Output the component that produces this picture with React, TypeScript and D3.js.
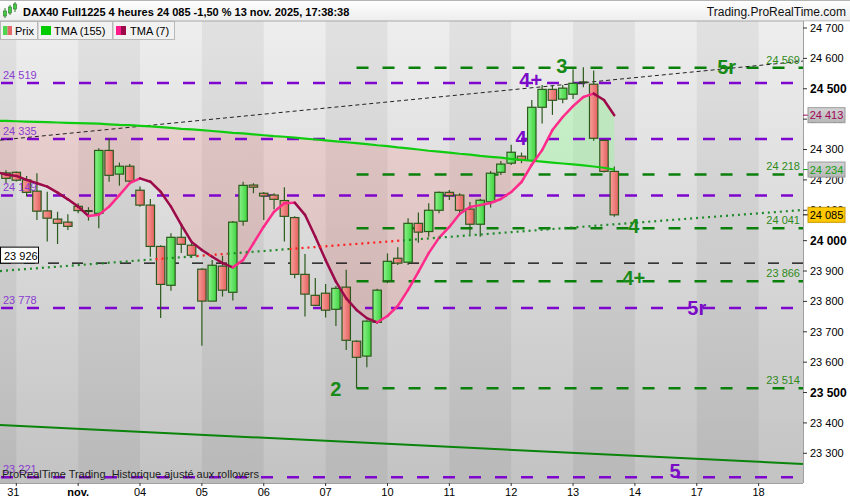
import React from 'react';
import * as d3 from 'd3';

// ---------- DATA ----------
const opens = [24223, 24225, 24200, 24163, 24098, 24071, 24061, 24113, 24099, 24090, 24297, 24219, 24245, 24166, 24117, 23981, 23853, 24011, 23985, 23906, 23801, 23916, 23830, 24064, 24183, 24156, 24150, 24132, 24076, 23889, 23820, 23827, 23774, 23847, 23669, 23620, 23731, 23868, 23942, 23929, 24057, 24030, 24100, 24159, 24150, 24104, 24054, 24128, 24225, 24255, 24278, 24264, 24439, 24498, 24466, 24482, 24519, 24515, 24330, 24228];
const highs = [24232, 24228, 24213, 24222, 24161, 24095, 24087, 24123, 24110, 24304, 24337, 24257, 24252, 24178, 24137, 23985, 24024, 24052, 23992, 23909, 23936, 23950, 24065, 24194, 24189, 24160, 24156, 24176, 24080, 23956, 23877, 23857, 23851, 23904, 23672, 23738, 23842, 23958, 23978, 24074, 24093, 24123, 24162, 24167, 24156, 24127, 24138, 24229, 24262, 24316, 24290, 24463, 24512, 24512, 24512, 24564, 24571, 24560, 24333, 24244];
const lows = [24190, 24195, 24145, 24068, 23997, 23989, 24035, 24090, 24066, 24041, 24194, 24181, 24187, 24112, 23947, 23745, 23835, 23959, 23943, 23654, 23801, 23816, 23803, 24049, 24156, 24068, 24103, 23997, 23876, 23750, 23785, 23747, 23719, 23640, 23514, 23583, 23726, 23860, 23920, 23920, 23993, 24013, 24090, 24134, 24090, 24021, 24013, 24109, 24216, 24249, 24255, 24260, 24386, 24414, 24452, 24466, 24505, 24329, 24224, 24079];
const closes = [24205, 24199, 24159, 24097, 24074, 24057, 24047, 24099, 24096, 24297, 24215, 24245, 24196, 24117, 23981, 23856, 24011, 23988, 23952, 23801, 23919, 23837, 24061, 24182, 24176, 24147, 24136, 24080, 23889, 23824, 23787, 23771, 23843, 23672, 23616, 23735, 23837, 23932, 23926, 24057, 24028, 24100, 24159, 24148, 24100, 24054, 24133, 24222, 24252, 24291, 24265, 24439, 24498, 24462, 24502, 24518, 24523, 24337, 24228, 24085];

// moving averages start one bar before the first candle
const TMA_START = -1;
const tma7 = [24226, 24218, 24213, 24200, 24189, 24178, 24158, 24136, 24112, 24081, 24085, 24112, 24150, 24189, 24205, 24194, 24161, 24112, 24052, 23996, 23969, 23947, 23926, 23912, 23936, 23991, 24046, 24095, 24123, 24125, 24085, 24013, 23936, 23865, 23810, 23772, 23745, 23731, 23752, 23785, 23838, 23897, 23959, 24009, 24045, 24088, 24111, 24117, 24124, 24137, 24160, 24193, 24250, 24298, 24364, 24407, 24443, 24473, 24484, 24463, 24413];
const tma155 = [24395, 24394, 24393, 24392, 24391, 24390, 24389, 24388, 24387, 24386, 24385, 24383, 24381, 24380, 24378, 24376, 24374, 24371, 24368, 24366, 24364, 24361, 24358, 24355, 24353, 24350, 24347, 24344, 24342, 24339, 24336, 24333, 24330, 24327, 24324, 24321, 24318, 24314, 24311, 24307, 24304, 24300, 24296, 24293, 24290, 24286, 24283, 24279, 24276, 24273, 24269, 24266, 24263, 24260, 24257, 24254, 24251, 24248, 24244, 24240, 24234];

const dayLabels = ['31', 'nov.', '04', '05', '06', '07', '10', '11', '12', '13', '14', '17', '18'];
const dayFirstBar = [1, 7, 13, 19, 25, 31, 37, 43, 49, 55, 61, 67, 73];

const yTickValues = [23300, 23400, 23500, 23600, 23700, 23800, 23900, 24000, 24100, 24200, 24300, 24400, 24500, 24600, 24700];
const yMajorTicks = [23500, 24000, 24500];

const purpleLevels = [24519, 24335, 24149, 23778, 23221];
const greenLevels = [24569, 24218, 24041, 23866, 23514];
const greenLevelStartBar = 34;
const blackLevel = 23926;

const trendUpper = [{ bar: -0.58, value: 24331 }, { bar: 77.3, value: 24591 }];
const trendDotted = [{ bar: -0.58, value: 23900 }, { bar: 77.3, value: 24101 }];
const trendLower = [{ bar: -0.58, value: 23393 }, { bar: 77.3, value: 23265 }];

const waveLabels = [
  { text: '4+', bar: 50.9, value: 24506, color: '#7a0ac8' },
  { text: '4', bar: 49.95, value: 24315, color: '#7a0ac8' },
  { text: '3', bar: 53.9, value: 24552, color: '#178a17' },
  { text: '5r', bar: 69.9, value: 24549, color: '#178a17' },
  { text: '4', bar: 60.9, value: 24025, color: '#178a17' },
  { text: '4+', bar: 60.9, value: 23854, color: '#178a17' },
  { text: '5r', bar: 67.0, value: 23755, color: '#7a0ac8' },
  { text: '5', bar: 64.9, value: 23219, color: '#7a0ac8' },
  { text: '2', bar: 32.0, value: 23489, color: '#178a17' },
];

const headerText = 'DAX40 Full1225 4 heures 24 085 -1,50 % 13 nov. 2025, 17:38:38';
const siteText = 'Trading.ProRealTime.com';
const footerText = 'ProRealTime Trading  Historique ajusté aux rollovers';

// ---------- LAYOUT ----------
const W = 850;
const H = 500;
const P = { left: 0, right: 803, top: 21, bottom: 483 };
const FONT = 'Liberation Sans, Arial, sans-serif';

const x = d3.scaleLinear().domain([0, 77]).range([6, 6 + 77 * 10.31]);
const y = d3.scaleLinear().domain([23300, 24700]).range([453.3, 28]);

const fmt = (v: number) => {
  const r = Math.round(v);
  return `${Math.floor(r / 1000)} ${String(r % 1000).padStart(3, '0')}`;
};

const lineAt = (t: { bar: number; value: number }[], bar: number) =>
  t[0].value + ((bar - t[0].bar) * (t[1].value - t[0].value)) / (t[1].bar - t[0].bar);

export default function App() {
  const tmaPts = tma7.map((v, k) => ({ i: k + TMA_START, t7: v, t155: tma155[k] }));
  const between = d3
    .area<any>()
    .x((d) => x(d.i))
    .y0((d) => y(d.t7))
    .y1((d) => y(d.t155))(tmaPts) as string;
  const aboveT7 = d3
    .area<any>()
    .x((d) => x(d.i))
    .y0(() => -50)
    .y1((d) => y(d.t7))(tmaPts) as string;
  const belowT7 = d3
    .area<any>()
    .x((d) => x(d.i))
    .y0((d) => y(d.t7))
    .y1(() => 600)(tmaPts) as string;
  const line155 = d3
    .line<any>()
    .x((d) => x(d.i))
    .y((d) => y(d.t155))(tmaPts) as string;

  // day bands
  const bands: { x0: number; x1: number; dark: boolean }[] = [];
  for (let k = -1; k < dayFirstBar.length; k++) {
    const b0 = 1 + 6 * k;
    bands.push({ x0: x(b0), x1: x(b0 + 6), dark: Math.abs(k) % 2 === 1 });
  }

  // dotted trend segments coloured by close vs line
  const dotSegs: { a: number; b: number; red: boolean }[] = [];
  const pushSeg = (a: number, b: number, red: boolean) => {
    const last = dotSegs[dotSegs.length - 1];
    if (last && last.red === red) last.b = b;
    else dotSegs.push({ a, b, red });
  };
  pushSeg(trendDotted[0].bar, -0.5, false);
  closes.forEach((c, i) => pushSeg(i - 0.5, i + 0.5, c < lineAt(trendDotted, i)));
  pushSeg(closes.length - 0.5, trendDotted[1].bar, false);

  const lastClose = closes[closes.length - 1];
  const last7 = tma7[tma7.length - 1];
  const last155 = tma155[tma155.length - 1];

  const valueBoxes = [
    { v: last7, fill: 'url(#greyBox)', stroke: '#9a9a9a', text: '#a0045a', tick: '#a0045a' },
    { v: last155, fill: 'url(#greyBox)', stroke: '#9a9a9a', text: '#14a014', tick: '#14a014' },
    { v: lastClose, fill: '#ffc800', stroke: '#c89a00', text: '#000', tick: '#000' },
  ];

  return (
    <svg width={W} height={H} style={{ position: 'fixed', left: 0, top: 0, display: 'block' }} fontFamily={FONT}>
      <defs>
        <linearGradient id="bg" x1="0" y1={P.top} x2="0" y2={P.bottom} gradientUnits="userSpaceOnUse">
          <stop offset="0" stopColor="#eeeeee" />
          <stop offset="1" stopColor="#c3c3c3" />
        </linearGradient>
        <linearGradient id="hdr" x1="0" y1="0" x2="0" y2="1">
          <stop offset="0" stopColor="#ffffff" />
          <stop offset="1" stopColor="#ededed" />
        </linearGradient>
        <linearGradient id="greyBox" x1="0" y1="0" x2="0" y2="1">
          <stop offset="0" stopColor="#d4d4d4" />
          <stop offset="1" stopColor="#b6b6b6" />
        </linearGradient>
        <linearGradient id="gBody" x1="0" y1="0" x2="1" y2="0">
          <stop offset="0" stopColor="#8af28a" />
          <stop offset="1" stopColor="#3fd33f" />
        </linearGradient>
        <linearGradient id="rBody" x1="0" y1="0" x2="1" y2="0">
          <stop offset="0" stopColor="#f7a09a" />
          <stop offset="1" stopColor="#e46060" />
        </linearGradient>
        <clipPath id="plotClip">
          <rect x={P.left} y={P.top} width={P.right - P.left} height={P.bottom - P.top} />
        </clipPath>
        <clipPath id="clipAbove">
          <path d={aboveT7} />
        </clipPath>
        <clipPath id="clipBelow">
          <path d={belowT7} />
        </clipPath>
      </defs>

      {/* page background */}
      <rect x={0} y={0} width={W} height={H} fill="#ffffff" />

      {/* plot */}
      <g clipPath="url(#plotClip)">
        <rect x={P.left} y={P.top} width={P.right - P.left} height={P.bottom - P.top} fill="url(#bg)" />
        {bands.map((b, k) =>
          b.dark ? (
            <rect key={k} x={b.x0} y={P.top} width={b.x1 - b.x0} height={P.bottom - P.top} fill="rgba(0,0,0,0.05)" />
          ) : null
        )}

        {/* MA fills */}
        <path d={between} fill="rgba(255,105,105,0.18)" clipPath="url(#clipAbove)" />
        <path d={between} fill="rgba(150,255,150,0.38)" clipPath="url(#clipBelow)" />

        {/* lower trend line */}
        <line
          x1={x(trendLower[0].bar)}
          y1={y(trendLower[0].value)}
          x2={x(trendLower[1].bar)}
          y2={y(trendLower[1].value)}
          stroke="#0a840a"
          strokeWidth={2}
        />

        {/* horizontal levels */}
        {purpleLevels.map((v) => (
          <line key={'p' + v} x1={1} x2={793} y1={y(v)} y2={y(v)} stroke="#7f06cc" strokeWidth={2.5} strokeDasharray="12 14" />
        ))}
        {greenLevels.map((v) => (
          <line
            key={'g' + v}
            x1={x(greenLevelStartBar)}
            x2={P.right}
            y1={y(v)}
            y2={y(v)}
            stroke="#0a800a"
            strokeWidth={2.5}
            strokeDasharray="12 14"
          />
        ))}
        <line x1={0} x2={P.right} y1={y(blackLevel)} y2={y(blackLevel)} stroke="#000" strokeWidth={1.4} strokeDasharray="11 13" />

        {/* upper dashed trend */}
        <line
          x1={x(trendUpper[0].bar)}
          y1={y(trendUpper[0].value)}
          x2={x(trendUpper[1].bar)}
          y2={y(trendUpper[1].value)}
          stroke="#222"
          strokeWidth={1}
          strokeDasharray="4 3"
        />

        {/* candles */}
        {closes.map((c, i) => {
          const o = opens[i];
          const cx = x(i);
          const top = y(Math.max(o, c));
          const bot = y(Math.min(o, c));
          const doji = bot - top < 2;
          return (
            <g key={'c' + i}>
              <line x1={cx} x2={cx} y1={y(highs[i])} y2={y(lows[i])} stroke="#2c5a1c" strokeWidth={1.2} />
              {doji ? (
                <rect x={cx - 4.2} y={(top + bot) / 2 - 1} width={8.4} height={2} fill="#2c4a1c" />
              ) : (
                <rect
                  x={cx - 4.2}
                  y={top}
                  width={8.4}
                  height={bot - top}
                  fill={c >= o ? 'url(#gBody)' : 'url(#rBody)'}
                  stroke="#2c5a1c"
                  strokeWidth={1.2}
                />
              )}
            </g>
          );
        })}

        {/* TMA 155 */}
        <path d={line155} fill="none" stroke="#10cc10" strokeWidth={2.2} />

        {/* TMA 7 coloured by slope */}
        {tmaPts.slice(0, -1).map((d, k) => {
          const n = tmaPts[k + 1];
          return (
            <line
              key={'t7' + k}
              x1={x(d.i)}
              y1={y(d.t7)}
              x2={x(n.i)}
              y2={y(n.t7)}
              stroke={n.t7 >= d.t7 ? '#ff2a8a' : '#9c0a4a'}
              strokeWidth={2.5}
              strokeLinecap="round"
            />
          );
        })}

        {/* dotted trend */}
        {dotSegs.map((s, k) => (
          <line
            key={'d' + k}
            x1={x(s.a)}
            y1={y(lineAt(trendDotted, s.a))}
            x2={x(s.b)}
            y2={y(lineAt(trendDotted, s.b))}
            stroke={s.red ? '#ff1e1e' : '#1f8a2a'}
            strokeWidth={2.2}
            strokeDasharray="2 4"
          />
        ))}

        {/* level labels, left */}
        {purpleLevels.map((v) => (
          <text key={'pl' + v} x={3} y={y(v) - 4} fontSize={11} fill="#8a3ccf">
            {fmt(v)}
          </text>
        ))}
        {greenLevels.map((v) => (
          <text key={'gl' + v} x={800} y={y(v) - 4} fontSize={11} fill="#2f8a1a" textAnchor="end">
            {fmt(v)}
          </text>
        ))}
        <rect x={0.5} y={y(blackLevel) - 16} width={38} height={16} fill="#fff" stroke="#000" strokeWidth={1} />
        <text x={4} y={y(blackLevel) - 3.5} fontSize={11} fill="#000">
          {fmt(blackLevel)}
        </text>

        {/* wave labels */}
        {waveLabels.map((w, k) => (
          <text key={'w' + k} x={x(w.bar)} y={y(w.value)} fontSize={20} fontWeight="bold" fill={w.color} textAnchor="middle">
            {w.text}
          </text>
        ))}

        <text x={2} y={478} fontSize={11} fill="#222" style={{ whiteSpace: 'pre' }}>
          {footerText}
        </text>
      </g>

      {/* header */}
      <rect x={0} y={0} width={W} height={21} fill="url(#hdr)" />
      <line x1={0} x2={W} y1={0.5} y2={0.5} stroke="#b4b4b4" />
      <line x1={0} x2={W} y1={21} y2={21} stroke="#a8a8a8" />
      <g>
        <line x1={5} x2={5} y1={8} y2={18} stroke="#2c7a2c" />
        <rect x={3.5} y={11} width={3} height={5} fill="#3fcf3f" stroke="#2c6a2c" strokeWidth={0.6} />
        <line x1={10} x2={10} y1={5} y2={15} stroke="#2c7a2c" />
        <rect x={8.5} y={7} width={3} height={6} fill="#3fcf3f" stroke="#2c6a2c" strokeWidth={0.6} />
        <line x1={15} x2={15} y1={2} y2={12} stroke="#2c7a2c" />
        <rect x={13.5} y={4} width={3} height={5} fill="#3fcf3f" stroke="#2c6a2c" strokeWidth={0.6} />
      </g>
      <text x={23} y={15.5} fontSize={11} fontWeight="bold" fill="#000">
        {headerText}
      </text>
      <text x={846} y={15.5} fontSize={12} fill="#111" textAnchor="end">
        {siteText}
      </text>

      {/* legend */}
      <g>
        <rect x={0.5} y={21.5} width={37} height={18} fill="#f2f2f2" stroke="#b8b8b8" />
        <rect x={38} y={21.5} width={74.5} height={18} fill="#f2f2f2" stroke="#b8b8b8" />
        <rect x={113} y={21.5} width={61.5} height={18} fill="#f2f2f2" stroke="#b8b8b8" />
        <rect x={3} y={26} width={4.5} height={9} fill="#4fd84f" />
        <rect x={7.5} y={26} width={4.5} height={9} fill="#e46a6a" />
        <text x={15} y={34.5} fontSize={11} fill="#000">Prix</text>
        <rect x={41} y={26} width={10} height={9} fill="#00cc00" />
        <text x={54} y={34.5} fontSize={11} fill="#000">TMA (155)</text>
        <rect x={116} y={26} width={5} height={9} fill="#ff1a8c" />
        <rect x={121} y={26} width={5} height={9} fill="#9c0a4a" />
        <text x={130} y={34.5} fontSize={11} fill="#000">TMA (7)</text>
      </g>

      {/* right axis */}
      <rect x={P.right} y={P.top + 0.5} width={W - P.right} height={P.bottom - P.top} fill="#fff" />
      <line x1={P.right + 0.5} x2={P.right + 0.5} y1={P.top} y2={P.bottom} stroke="#a0a0a0" />
      {yTickValues.map((v) => {
        const major = yMajorTicks.includes(v);
        return (
          <g key={'yt' + v}>
            <line x1={P.right} x2={P.right + 4} y1={y(v)} y2={y(v)} stroke="#333" />
            <text
              x={P.right + 7}
              y={y(v)}
              dy="0.36em"
              fontSize={major ? 12 : 11}
              fontWeight={major ? 'bold' : 'normal'}
              fill="#000"
            >
              {fmt(v)}
            </text>
          </g>
        );
      })}
      {valueBoxes.map((b) => (
        <g key={'vb' + b.v}>
          <line x1={P.right} x2={P.right + 5} y1={y(b.v)} y2={y(b.v)} stroke={b.tick} />
          <rect x={P.right + 5} y={y(b.v) - 7.5} width={37} height={15} fill={b.fill} stroke={b.stroke} />
          <text x={P.right + 23.5} y={y(b.v)} dy="0.36em" fontSize={11} fill={b.text} textAnchor="middle">
            {fmt(b.v)}
          </text>
        </g>
      ))}

      {/* bottom axis */}
      <rect x={0} y={P.bottom} width={W} height={H - P.bottom} fill="#fff" />
      <line x1={0} x2={P.right} y1={P.bottom + 0.5} y2={P.bottom + 0.5} stroke="#a0a0a0" />
      {dayFirstBar.map((b, k) => (
        <g key={'xt' + k}>
          <line x1={x(b)} x2={x(b)} y1={P.bottom} y2={P.bottom + 3} stroke="#333" />
          <text
            x={x(b) - (k === 0 ? 3 : 0)}
            y={496}
            fontSize={11}
            fontWeight={dayLabels[k] === 'nov.' ? 'bold' : 'normal'}
            fill="#000"
            textAnchor="middle"
          >
            {dayLabels[k]}
          </text>
        </g>
      ))}
    </svg>
  );
}
